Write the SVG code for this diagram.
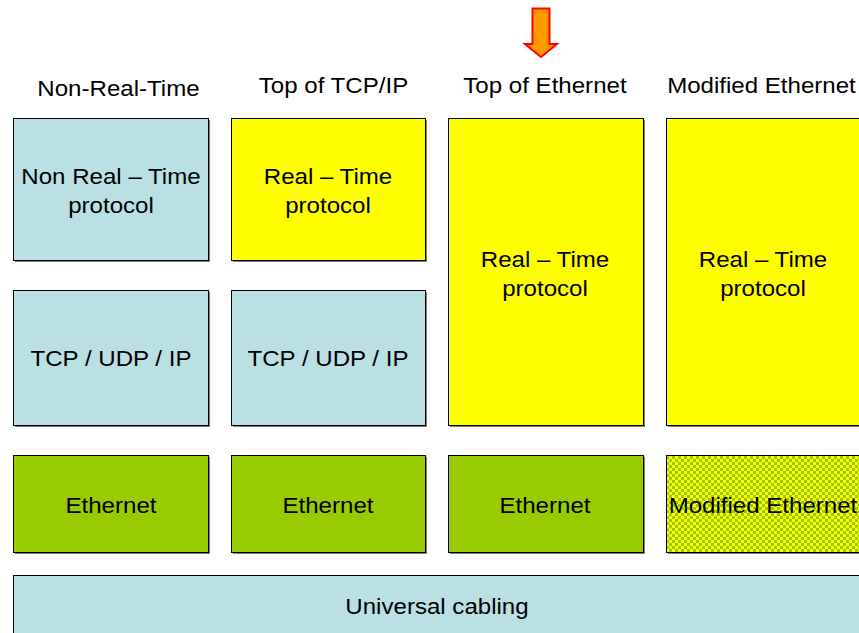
<svg xmlns="http://www.w3.org/2000/svg" width="859" height="633" viewBox="0 0 859 633">
<defs>
<pattern id="checker" x="0" y="0" width="6" height="6" patternUnits="userSpaceOnUse">
<rect width="6" height="6" fill="#FFFF00"/>
<rect width="3" height="3" fill="#99CC00"/>
<rect x="3" y="3" width="3" height="3" fill="#99CC00"/>
</pattern>
</defs>
<style>
text{font-family:"Liberation Sans",Arial,sans-serif;font-size:22.5px;fill:#000;text-anchor:middle;transform-box:fill-box;transform-origin:center;transform:scaleX(1.07)}
.sh{fill:#7f7f7f}
.box{stroke:#000;stroke-width:1}
.blue{fill:#BBE0E3}
.yel{fill:#FFFF00}
.grn{fill:#99CC00}
.chk{fill:url(#checker)}
</style>
<rect width="859" height="633" fill="#fff"/>
<g id="arrow">
<polygon points="532.5,8.5 549.5,8.5 549.5,44 557,44 541,57 525,44 532.5,44" fill="#FF9900" stroke="#FF0000" stroke-width="2" stroke-linejoin="miter"/>
</g>
<g id="headers">
<text x="118.5" y="96">Non-Real-Time</text>
<text x="333.5" y="93">Top of TCP/IP</text>
<text x="545" y="93">Top of Ethernet</text>
<text x="761.5" y="93">Modified Ethernet</text>
</g>
<g id="nrt-app">
<rect class="sh" x="15" y="120" width="195" height="142"/>
<rect class="box blue" x="13.5" y="118.5" width="195" height="142"/>
<text x="111" y="184">Non Real – Time</text>
<text x="111" y="213">protocol</text>
</g>
<g id="tcp-app">
<rect class="sh" x="233" y="120" width="194" height="142"/>
<rect class="box yel" x="231.5" y="118.5" width="194" height="142"/>
<text x="328" y="184">Real – Time</text>
<text x="328" y="213">protocol</text>
</g>
<g id="eth-app">
<rect class="sh" x="450" y="120" width="195" height="307"/>
<rect class="box yel" x="448.5" y="118.5" width="195" height="307"/>
<text x="545" y="267">Real – Time</text>
<text x="545" y="296">protocol</text>
</g>
<g id="mod-app">
<rect class="sh" x="668" y="120" width="195" height="307"/>
<rect class="box yel" x="666.5" y="118.5" width="195" height="307"/>
<text x="763" y="267">Real – Time</text>
<text x="763" y="296">protocol</text>
</g>
<g id="nrt-tcp">
<rect class="sh" x="15" y="292" width="195" height="135"/>
<rect class="box blue" x="13.5" y="290.5" width="195" height="135"/>
<text x="111" y="366">TCP / UDP / IP</text>
</g>
<g id="tcp-tcp">
<rect class="sh" x="233" y="292" width="194" height="135"/>
<rect class="box blue" x="231.5" y="290.5" width="194" height="135"/>
<text x="328" y="366">TCP / UDP / IP</text>
</g>
<g id="nrt-eth">
<rect class="sh" x="15" y="457" width="195" height="97"/>
<rect class="box grn" x="13.5" y="455.5" width="195" height="97"/>
<text x="111" y="513">Ethernet</text>
</g>
<g id="tcp-eth">
<rect class="sh" x="233" y="457" width="194" height="97"/>
<rect class="box grn" x="231.5" y="455.5" width="194" height="97"/>
<text x="328" y="513">Ethernet</text>
</g>
<g id="eth-eth">
<rect class="sh" x="450" y="457" width="195" height="97"/>
<rect class="box grn" x="448.5" y="455.5" width="195" height="97"/>
<text x="545" y="513">Ethernet</text>
</g>
<g id="mod-eth">
<rect class="sh" x="668" y="457" width="195" height="97"/>
<rect class="box chk" x="666.5" y="455.5" width="195" height="97"/>
<text x="763" y="513">Modified Ethernet</text>
</g>
<g id="cabling">
<rect class="sh" x="15" y="577" width="850" height="60"/>
<rect class="box blue" x="13.5" y="575.5" width="850" height="60"/>
<text x="437" y="614">Universal cabling</text>
</g>
<g id="connectors"></g>
</svg>
